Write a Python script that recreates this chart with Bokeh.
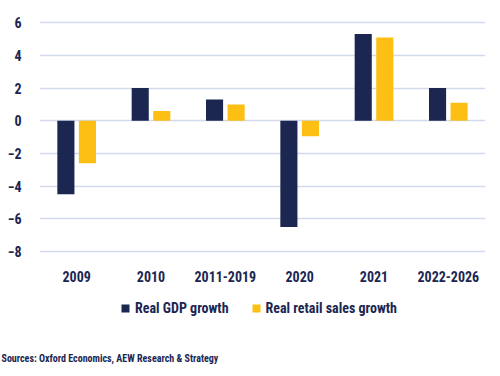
from bokeh.plotting import figure
from bokeh.models import ColumnDataSource, Legend, LegendItem, Title, FactorRange, Range1d
from bokeh.layouts import column
from bokeh.transform import dodge
from bokeh.embed import file_html
from bokeh.resources import INLINE

categories = ["2009", "2010", "2011-2019", "2020", "2021", "2022-2026"]
gdp_growth = [-4.5, 2.0, 1.3, -6.5, 5.3, 2.0]
retail_growth = [-2.6, 0.6, 1.0, -0.95, 5.1, 1.1]
y_ticks = [-8, -6, -4, -2, 0, 2, 4, 6]
series_names = ["Real GDP growth", "Real retail sales growth"]
source_text = "Sources: Oxford Economics, AEW Research & Strategy"

NAVY = "#1b2651"
GOLD = "#fdbf14"
FONT = "Roboto Condensed"

src = ColumnDataSource(dict(cat=categories, gdp=gdp_growth, retail=retail_growth))

p = figure(width=500, height=290, x_range=FactorRange(*categories), y_range=(-8.3, 6.5),
           output_backend="svg", toolbar_location=None,
           min_border_left=39, min_border_right=15, min_border_top=14, min_border_bottom=34)
p.outline_line_color = None
p.background_fill_color = "white"
p.border_fill_color = "white"

r1 = p.vbar(x=dodge("cat", -0.145, range=p.x_range), top="gdp", width=0.23, source=src,
            fill_color=NAVY, line_color=None)
r2 = p.vbar(x=dodge("cat", 0.145, range=p.x_range), top="retail", width=0.23, source=src,
            fill_color=GOLD, line_color=None)

p.xgrid.grid_line_color = None
p.ygrid.grid_line_color = "#d3d9ec"
p.ygrid.grid_line_width = 1.5
p.yaxis.ticker = y_ticks
p.yaxis.axis_line_color = None
p.yaxis.major_tick_line_color = None
p.yaxis.minor_tick_line_color = None
p.yaxis.major_label_text_font = FONT
p.yaxis.major_label_text_font_size = "14px"
p.yaxis.major_label_text_font_style = "bold"
p.yaxis.major_label_text_color = NAVY
p.yaxis.major_label_standoff = 12

p.xaxis.axis_line_color = None
p.xaxis.major_tick_line_color = None
p.xaxis.minor_tick_line_color = None
p.xaxis.major_label_text_font = FONT
p.xaxis.major_label_text_font_size = "14px"
p.xaxis.major_label_text_font_style = "bold"
p.xaxis.major_label_text_color = NAVY
p.xaxis.major_label_standoff = 8

# second strip for legend and source note
p2 = figure(width=500, height=86, x_range=FactorRange(*categories), y_range=Range1d(1000, 1001),
            output_backend="svg", toolbar_location=None, x_axis_type=None, y_axis_type=None,
            min_border_top=0, min_border_left=39, min_border_right=15, min_border_bottom=26)
p2.outline_line_color = None
p2.xgrid.grid_line_color = None
p2.ygrid.grid_line_color = None
l1 = p2.scatter(x="cat", y="gdp", marker="square", size=8, source=src,
                fill_color=NAVY, line_color=None)
l2 = p2.scatter(x="cat", y="retail", marker="square", size=8, source=src,
                fill_color=GOLD, line_color=None)

legend = Legend(items=[LegendItem(label=series_names[0], renderers=[l1]),
                       LegendItem(label=series_names[1], renderers=[l2])],
                orientation="horizontal", location=(76, 32),
                label_text_font=FONT, label_text_font_size="14px", label_text_font_style="bold",
                label_text_color=NAVY, glyph_width=20, glyph_height=20, spacing=17,
                border_line_color=None, background_fill_alpha=0, padding=0, margin=0,
                label_standoff=0, label_height=20)
p2.add_layout(legend, "center")

p2.add_layout(Title(text=source_text, align="left", offset=-38, standoff=0,
                    text_font=FONT, text_font_size="10px", text_font_style="bold",
                    text_color=NAVY), "below")

open("out.html", "w").write(file_html(column(p, p2), INLINE))
